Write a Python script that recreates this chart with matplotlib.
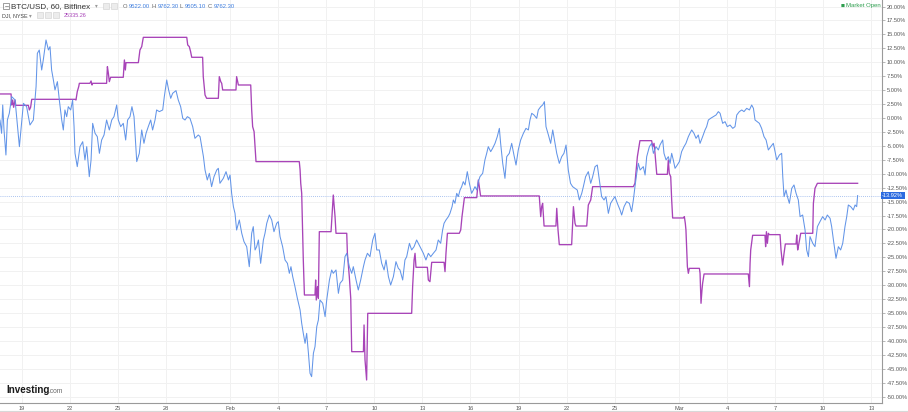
import matplotlib
matplotlib.use("Agg")
import matplotlib.pyplot as plt
from matplotlib.patches import Rectangle
import numpy as np

# ---------------- data (x = day of 2018, Jan 1 = 0; y = % change) ----------------
btc_days = [
    16.65, 16.75, 16.82, 16.90, 17.02, 17.11, 17.23, 17.32, 17.38, 17.59, 17.86, 18.11, 18.31, 18.52, 18.73,
    18.90, 18.98, 19.10, 19.25, 19.35, 19.52, 19.67, 19.77, 19.87, 19.98, 20.08, 20.23, 20.35, 20.50, 20.60,
    20.70, 20.81, 20.91, 21.06, 21.18, 21.27, 21.33, 21.47, 21.64, 21.81, 21.95, 22.06, 22.22, 22.33, 22.43,
    22.58, 22.72, 22.85, 22.99, 23.14, 23.30, 23.47, 23.62, 23.76, 23.93, 24.03, 24.18, 24.34, 24.49, 24.61,
    24.76, 24.88, 25.01, 25.18, 25.34, 25.49, 25.63, 25.76, 25.90, 26.05, 26.17, 26.32, 26.42, 26.59, 26.80,
    26.90, 27.05, 27.17, 27.30, 27.42, 27.63, 27.77, 27.92, 28.05, 28.19, 28.34, 28.50, 28.67, 28.81, 29.02,
    29.13, 29.34, 29.44, 29.58, 29.71, 29.85, 30.00, 30.17, 30.27, 30.37, 30.58, 30.75, 30.90, 31.00, 31.10,
    31.21, 31.31, 31.41, 31.58, 31.73, 31.87, 32.04, 32.20, 32.35, 32.45, 32.56, 32.66, 32.77, 32.91, 33.08,
    33.18, 33.29, 33.45, 33.60, 33.74, 33.91, 34.01, 34.12, 34.28, 34.43, 34.58, 34.70, 34.80, 34.91, 35.05,
    35.20, 35.37, 35.47, 35.57, 35.68, 35.78, 35.89, 35.99, 36.09, 36.20, 36.30, 36.41, 36.51, 36.61, 36.78,
    36.93, 37.03, 37.20, 37.34, 37.44, 37.61, 37.76, 37.86, 38.03, 38.17, 38.28, 38.44, 38.59, 38.69, 38.86,
    39.00, 39.15, 39.32, 39.42, 39.57, 39.73, 39.90, 40.04, 40.15, 40.31, 40.46, 40.61, 40.73, 40.88, 41.02,
    41.19, 41.35, 41.50, 41.60, 41.77, 41.91, 42.02, 42.19, 42.33, 42.48, 42.64,
    42.85, 43.06, 43.22, 43.37, 43.52, 43.68, 43.85, 43.99, 44.14, 44.26, 44.35, 44.47, 44.62, 44.72, 44.85,
    44.93, 45.03, 45.14, 45.24, 45.35, 45.45, 45.55, 45.66, 45.80, 45.93, 46.07, 46.18, 46.28, 46.39, 46.49,
    46.59, 46.76, 46.90, 47.01, 47.11, 47.26, 47.38, 47.53, 47.67, 47.80, 47.88, 48.01, 48.15, 48.26, 48.42,
    48.57, 48.71, 48.84, 48.98, 49.13, 49.30, 49.46, 49.61, 49.71, 49.82, 49.96, 50.13, 50.23, 50.38, 50.50,
    50.61, 50.71, 50.86, 51.00, 51.13, 51.27, 51.38, 51.54, 51.69, 51.83, 51.96, 52.10, 52.24, 52.37, 52.52,
    52.66, 52.79, 52.94, 53.04, 53.18, 53.35, 53.50, 53.62, 53.77, 53.91, 54.04, 54.18, 54.33, 54.45, 54.60,
    54.74, 54.87, 55.01, 55.16, 55.33, 55.43, 55.58, 55.74, 55.91, 56.05, 56.16, 56.26, 56.37, 56.47,
    56.58, 56.78, 56.89, 56.99, 57.16, 57.30, 57.41, 57.57, 57.72, 57.82, 57.99, 58.07, 58.20, 58.34, 58.45,
    58.55, 58.65, 58.76, 58.90, 59.03, 59.17, 59.32, 59.44, 59.59, 59.69, 59.80, 59.94, 60.07, 60.21, 60.32,
    60.48, 60.63, 60.73, 60.84, 60.98, 61.15, 61.32, 61.46, 61.57, 61.73, 61.88, 62.02, 62.19, 62.36, 62.50,
    62.61, 62.77, 62.92, 63.06, 63.23, 63.40, 63.54, 63.65, 63.75, 63.89, 64.02, 64.16, 64.31, 64.44, 64.58,
    64.73, 64.89, 65.00, 65.10, 65.27, 65.41, 65.48, 65.56, 65.68, 65.77, 65.89, 66.04, 66.18, 66.31, 66.45,
    66.56, 66.72, 66.87, 66.97, 67.08, 67.18, 67.35, 67.49, 67.64, 67.80, 67.97, 68.12, 68.26, 68.43, 68.53,
    68.64, 68.80, 68.95, 69.09, 69.22, 69.36, 69.47, 69.57, 69.72, 69.88, 69.99, 70.09, 70.15,
]
btc_pct = [
    -0.36, -2.75, 2.33, -2.15, -6.64, -0.36, 0.84, 2.63, 3.83, 3.23, -5.14, 2.63, 2.03, -1.26, -0.36,
    5.62, 11.60, 12.20, 8.61, 10.41, 14.00, 12.20, 12.80, 8.61, 6.82, 5.03, 6.52, 3.23, -0.36, -2.15,
    1.44, 0.24, 2.03, 1.44, 3.23, -1.55, -6.34, -8.73, -5.14, -4.25, -7.53, -5.14, -10.53, -7.53, -0.96,
    -2.75, -3.35, -6.34, -3.95, -3.05, -0.36, -2.15, -0.36, 0.24, 2.33, -0.36, -1.55, -0.96, -3.95, -0.36,
    0.24, 2.03, 0.24, -7.83, -6.34, -2.15, -4.54, -2.75, -1.55, -0.36, -2.15, -0.36, 1.44, 1.14, 1.44,
    3.83, 6.82, 5.03, 3.53, 4.43, 4.91, 3.23, 2.03, -0.06, -0.36, 0.24, -0.06, -1.55, -3.65, -3.05,
    -3.35, -6.94, -9.33, -11.12, -9.93, -12.32, -10.53, -9.33, -9.03, -11.72, -10.83, -9.63, -11.12, -10.23, -13.52,
    -15.91, -17.11, -20.10, -18.30, -20.69, -22.19, -23.09, -26.68, -20.69, -19.50, -23.68, -23.09, -21.89, -26.08, -21.89,
    -20.69, -18.90, -17.40, -18.30, -20.40, -18.90, -18.60, -21.29, -23.09, -25.48, -26.08, -27.87, -26.68, -28.47, -30.26,
    -32.36, -34.45, -36.84, -38.64, -40.43, -38.64, -42.22, -45.81, -46.41, -42.22, -41.03, -37.44, -36.25, -32.66, -33.25,
    -35.65, -32.66, -29.07, -27.27, -27.87, -27.27, -31.46, -29.67, -29.07, -24.88, -24.28, -26.68, -27.87, -26.68, -29.07,
    -30.86, -29.07, -26.68, -25.48, -24.28, -24.88, -21.89, -20.69, -23.68, -23.68, -26.08, -27.27, -25.48, -28.47, -29.97,
    -28.47, -25.78, -26.98, -27.27, -29.07, -25.48, -24.88, -22.49, -23.68, -23.09, -21.89,
    -23.09, -24.28, -25.48, -24.28, -24.88, -24.28, -23.68, -21.89, -22.49, -20.10, -18.90, -18.30, -17.70, -17.11, -15.91,
    -14.71, -15.31, -13.52, -14.11, -12.92, -12.32, -11.42, -12.02, -9.63, -11.72, -13.52, -12.92, -12.32, -12.92, -11.42,
    -10.53, -9.93, -7.53, -6.34, -5.14, -6.04, -5.44, -4.55, -3.35, -1.86, -4.55, -8.14, -10.83, -6.94, -6.34,
    -4.55, -6.64, -8.44, -5.74, -3.95, -2.75, -1.86, -2.15, -0.36, 0.84, 0.54, -0.06, 1.44, 2.03, 2.33,
    2.93, -1.56, -3.05, -4.55, -2.15, -4.55, -6.34, -8.14, -6.94, -6.34, -4.85, -9.33, -11.72, -12.32, -12.62,
    -12.92, -14.71, -13.52, -12.32, -10.53, -9.63, -11.72, -10.53, -8.73, -8.44, -11.12, -14.11, -14.71, -14.11, -17.11,
    -15.31, -14.71, -14.11, -15.31, -16.51, -17.41, -15.91, -15.01, -15.31, -16.81, -14.71, -12.32, -9.93, -8.14,
    -9.33, -8.73, -10.23, -6.94, -5.14, -4.55, -6.34, -5.14, -5.74, -4.85, -3.95, -6.34, -7.53, -6.94, -8.14,
    -6.34, -7.53, -9.03, -8.44, -7.83, -6.04, -5.14, -4.55, -3.35, -2.75, -2.15, -2.75, -3.65, -3.05, -4.55,
    -3.35, -2.15, -1.56, -0.36, -0.06, 0.24, 0.54, 1.14, 0.84, -0.96, -0.66, -1.56, -1.26, -1.86, -1.56,
    0.54, 1.14, 1.44, 1.14, 1.73, 1.44, 2.33, 1.73, -0.36, -0.66, -0.96, -1.86, -3.35, -3.95, -5.74,
    -5.14, -4.55, -6.04, -7.53, -6.64, -6.34, -10.53, -14.11, -12.92, -14.11, -15.31, -12.62, -12.02, -13.52, -14.71,
    -17.70, -17.41, -20.10, -23.68, -24.88, -21.29, -22.49, -23.09, -19.50, -18.60, -17.70, -18.30, -17.41, -18.00, -19.50,
    -21.89, -25.18, -23.09, -23.68, -22.49, -19.50, -17.70, -15.61, -15.91, -16.51, -15.61, -15.91, -13.92,
]

dji_days = [
    16.65, 17.34, 17.38, 17.44, 17.50, 17.59, 17.63, 18.42, 18.48, 18.56, 18.63, 21.33, 21.39, 21.47, 21.56,
    21.60, 22.26, 22.33, 22.39, 22.43, 23.30, 23.35, 23.41, 23.47, 23.55, 24.34, 24.41, 24.47, 24.51, 25.28,
    25.38, 25.49, 25.59, 28.30, 28.36, 28.46, 28.54, 28.61, 29.29, 29.33, 29.44, 29.54, 30.27, 30.33, 30.42,
    30.48, 30.54, 31.37, 31.41, 31.48, 31.52, 32.29, 32.35, 32.41, 32.50, 32.62, 35.32, 35.37, 35.41, 35.47,
    35.57, 35.64, 36.30, 36.34, 36.38, 36.45, 36.51, 36.57, 37.30, 37.38, 37.44, 37.55, 37.61, 38.28, 38.32,
    38.44, 38.53, 38.59, 39.32, 39.36, 39.42, 39.52, 39.59, 42.33, 42.39, 42.48, 42.54, 42.60, 43.31, 43.37,
    43.47, 43.58, 44.35, 44.41, 44.47, 44.56, 45.30, 45.39, 45.47, 45.62, 46.39, 46.49, 46.63, 50.29, 50.38,
    50.44, 50.50, 50.59, 51.33, 51.38, 51.46, 51.54, 52.31, 52.42, 52.52, 52.58, 53.25, 53.35, 53.50, 53.62,
    56.16, 56.26, 56.41, 56.57, 57.30, 57.37, 57.45, 57.51, 57.62, 58.28, 58.34, 58.40, 58.49, 58.55, 58.61,
    59.28, 59.34, 59.40, 59.44, 59.53, 59.59, 59.65, 60.28, 60.32, 60.38, 60.44, 60.48, 60.57, 63.33, 63.40,
    63.44, 63.48, 63.60, 64.37, 64.41, 64.46, 64.52, 64.58, 64.64, 65.31, 65.37, 65.47, 65.56, 65.64, 66.31,
    66.35, 66.41, 66.47, 66.60, 67.35, 67.39, 67.49, 67.64, 70.15,
]
dji_pct = [
    4.31, 4.31, 2.33, 3.23, 1.92, 3.23, 2.27, 2.27, 1.44, 1.92, 3.35, 3.35, 3.23, 4.73, 5.62,
    6.22, 6.22, 6.64, 5.92, 6.22, 6.22, 9.21, 8.02, 6.52, 7.30, 7.30, 10.41, 8.61, 9.93, 9.93,
    12.20, 12.80, 14.47, 14.47, 13.10, 12.80, 11.90, 10.89, 10.89, 7.42, 4.13, 3.53, 3.53, 7.42, 6.52,
    6.22, 5.03, 5.03, 7.42, 6.52, 5.92, 5.92, 1.44, -1.55, -2.45, -7.83, -7.83, -9.33, -11.72, -13.52,
    -25.48, -31.76, -31.76, -29.07, -32.66, -30.26, -32.36, -20.40, -20.40, -16.51, -13.82, -17.70, -20.69, -20.69, -24.28,
    -28.47, -32.36, -41.93, -41.93, -37.14, -43.42, -47.01, -35.05, -35.05, -30.26, -25.48, -24.28, -26.79, -26.79, -29.07,
    -29.37, -25.90, -25.90, -27.57, -24.28, -20.69, -20.69, -20.10, -17.70, -14.29, -14.29, -11.12, -13.99, -13.99, -17.70,
    -15.91, -15.31, -19.38, -19.38, -16.21, -20.10, -22.73, -22.73, -15.91, -18.90, -19.38, -19.38, -15.61, -14.71, -12.32,
    -12.32, -11.72, -6.94, -4.07, -4.07, -5.14, -4.55, -6.34, -10.11, -10.11, -7.53, -9.93, -10.53, -14.71, -17.94,
    -17.94, -17.70, -18.90, -20.10, -26.68, -27.87, -26.98, -26.98, -27.87, -33.25, -30.86, -29.67, -27.99, -27.99, -30.26,
    -26.08, -23.68, -21.05, -21.05, -23.09, -20.40, -22.49, -20.69, -20.93, -20.93, -23.68, -26.38, -24.28, -22.61, -22.61,
    -20.99, -23.68, -22.79, -20.69, -20.69, -15.31, -12.62, -11.72, -11.72,
]

tick_days = [18, 21, 24, 27, 31, 34, 37, 40, 43, 46, 49, 52, 55, 59, 62, 65, 68, 71]
tick_labels = ["19", "22", "25", "28", "Feb", "4", "7", "10", "13",
               "16", "19", "22", "25", "Mar", "4", "7", "10", "13"]
y_ticks = [20.0 - 2.5 * i for i in range(29)]
last_btc = -13.92
btc_title = "BTC/USD, 60, Bitfinex"
btc_ohlc_letters = ["O", "H", "L", "C"]
btc_ohlc = ["9522.00", "9762.30", "9505.10", "9762.30"]
dji_title = "DJI, NYSE"
dji_last = "25335.26"

# ---------------- figure ----------------
W, H = 908, 412
plt.rcParams['font.family'] = ['Liberation Sans', 'DejaVu Sans']
fig = plt.figure(figsize=(W / 100, H / 100), dpi=100)
fig.patch.set_facecolor('white')

def fx(x):
    return x / W

def fy(y):
    return 1 - y / H

ax = fig.add_axes([0, fy(403), fx(882), 403 / H])
ax.set_facecolor('white')
ax.set_xlim(16.65, 71.67)
ax.set_ylim(-51.14, 21.17)

# grid
for yv in y_ticks:
    ax.axhline(yv, color='#f1f1f1', lw=0.7, zorder=0)
for d in tick_days:
    ax.axvline(d, color='#f1f1f1', lw=0.7, zorder=0)

# lines
ax.plot(btc_days, btc_pct, color='#6395e8', lw=0.75, zorder=3)
ax.plot(dji_days, dji_pct, color='#a844b8', lw=0.95, zorder=2)
ax.axhline(last_btc, color='#8fb0ea', lw=0.6, ls=(0, (1, 1.5)), zorder=1)

# spines
for s in ['top', 'left']:
    ax.spines[s].set_visible(False)
ax.spines['right'].set_color('#9a9a9a')
ax.spines['bottom'].set_color('#9a9a9a')
ax.spines['right'].set_linewidth(0.8)
ax.spines['bottom'].set_linewidth(0.8)

ax.yaxis.tick_right()
ax.set_yticks(y_ticks)
ax.set_yticklabels([f"{v:.2f}%" for v in y_ticks])
ax.set_xticks(tick_days)
ax.set_xticklabels(tick_labels)
ax.tick_params(axis='y', which='both', length=2.2, width=0.5, color='#9a9a9a',
               labelsize=4.1, labelcolor='#555555', pad=1.2)
ax.tick_params(axis='x', which='both', length=0, labelsize=4.1,
               labelcolor='#555555', pad=1.8)

# current value box
ax.text(1.0, last_btc, f"{last_btc:.2f}%", transform=ax.get_yaxis_transform(),
        ha='left', va='center', fontsize=4.1, color='white', zorder=10,
        bbox=dict(boxstyle='square,pad=0.25', fc='#2c6be0', ec='none'), clip_on=False)

# bottom frame line
fig.add_artist(plt.Line2D([0, 1], [fy(411), fy(411)], color='#d8d8d8', lw=0.8))

# legend header line 1
fig.add_artist(Rectangle((fx(3), fy(9)), fx(6), 6 / H, fill=False, ec='#777777', lw=0.5))
fig.add_artist(plt.Line2D([fx(4.5), fx(7.5)], [fy(6), fy(6)], color='#777777', lw=0.5))
fig.text(fx(11), fy(6.3), btc_title, fontsize=5.8, color='#333333', va='center', ha='left')
fig.text(fx(95), fy(6), "▾", fontsize=4, color='#999999', va='center', ha='left')
for x0 in (103, 111):
    fig.add_artist(Rectangle((fx(x0), fy(9)), fx(6), 6 / H, fc='#ececec', ec='#cfcfcf', lw=0.4))
letter_x = [122.7, 151.5, 180.0, 207.6]
value_x = [128.8, 157.3, 184.9, 213.4]
for L, v, xl, xv in zip(btc_ohlc_letters, btc_ohlc, letter_x, value_x):
    fig.text(fx(xl), fy(6.3), L, fontsize=4.2, color='#666666', va='center', ha='left')
    fig.text(fx(xv), fy(6.3), v, fontsize=4.2, color='#3f7fe0', va='center', ha='left')

# legend header line 2
fig.text(fx(1.7), fy(15.5), dji_title, fontsize=3.9, color='#444444', va='center', ha='left')
fig.text(fx(29), fy(15.3), "▾", fontsize=4, color='#999999', va='center', ha='left')
for x0 in (37, 45, 53):
    fig.add_artist(Rectangle((fx(x0), fy(18.3)), fx(6), 6 / H, fc='#ececec', ec='#cfcfcf', lw=0.4))
fig.text(fx(64), fy(15.5), dji_last, fontsize=4.0, color='#a844b8', va='center', ha='left')

# market open
fig.text(fx(840.5), fy(5.7), "■", fontsize=3.0, color='#2e9e4f', va='center', ha='left',
         family=['DejaVu Sans'])
fig.text(fx(846), fy(5.7), "Market Open", fontsize=4.3, color='#2e9e4f', va='center', ha='left')

# logo
fig.text(fx(6), fy(393), "Investing", fontsize=7.1, fontweight='bold', color='#1a1a1a',
         va='baseline', ha='left')
fig.text(fx(48.6), fy(393), ".com", fontsize=4.8, color='#666666', va='baseline', ha='left')

fig.savefig("out.png", dpi=100, facecolor='white')
